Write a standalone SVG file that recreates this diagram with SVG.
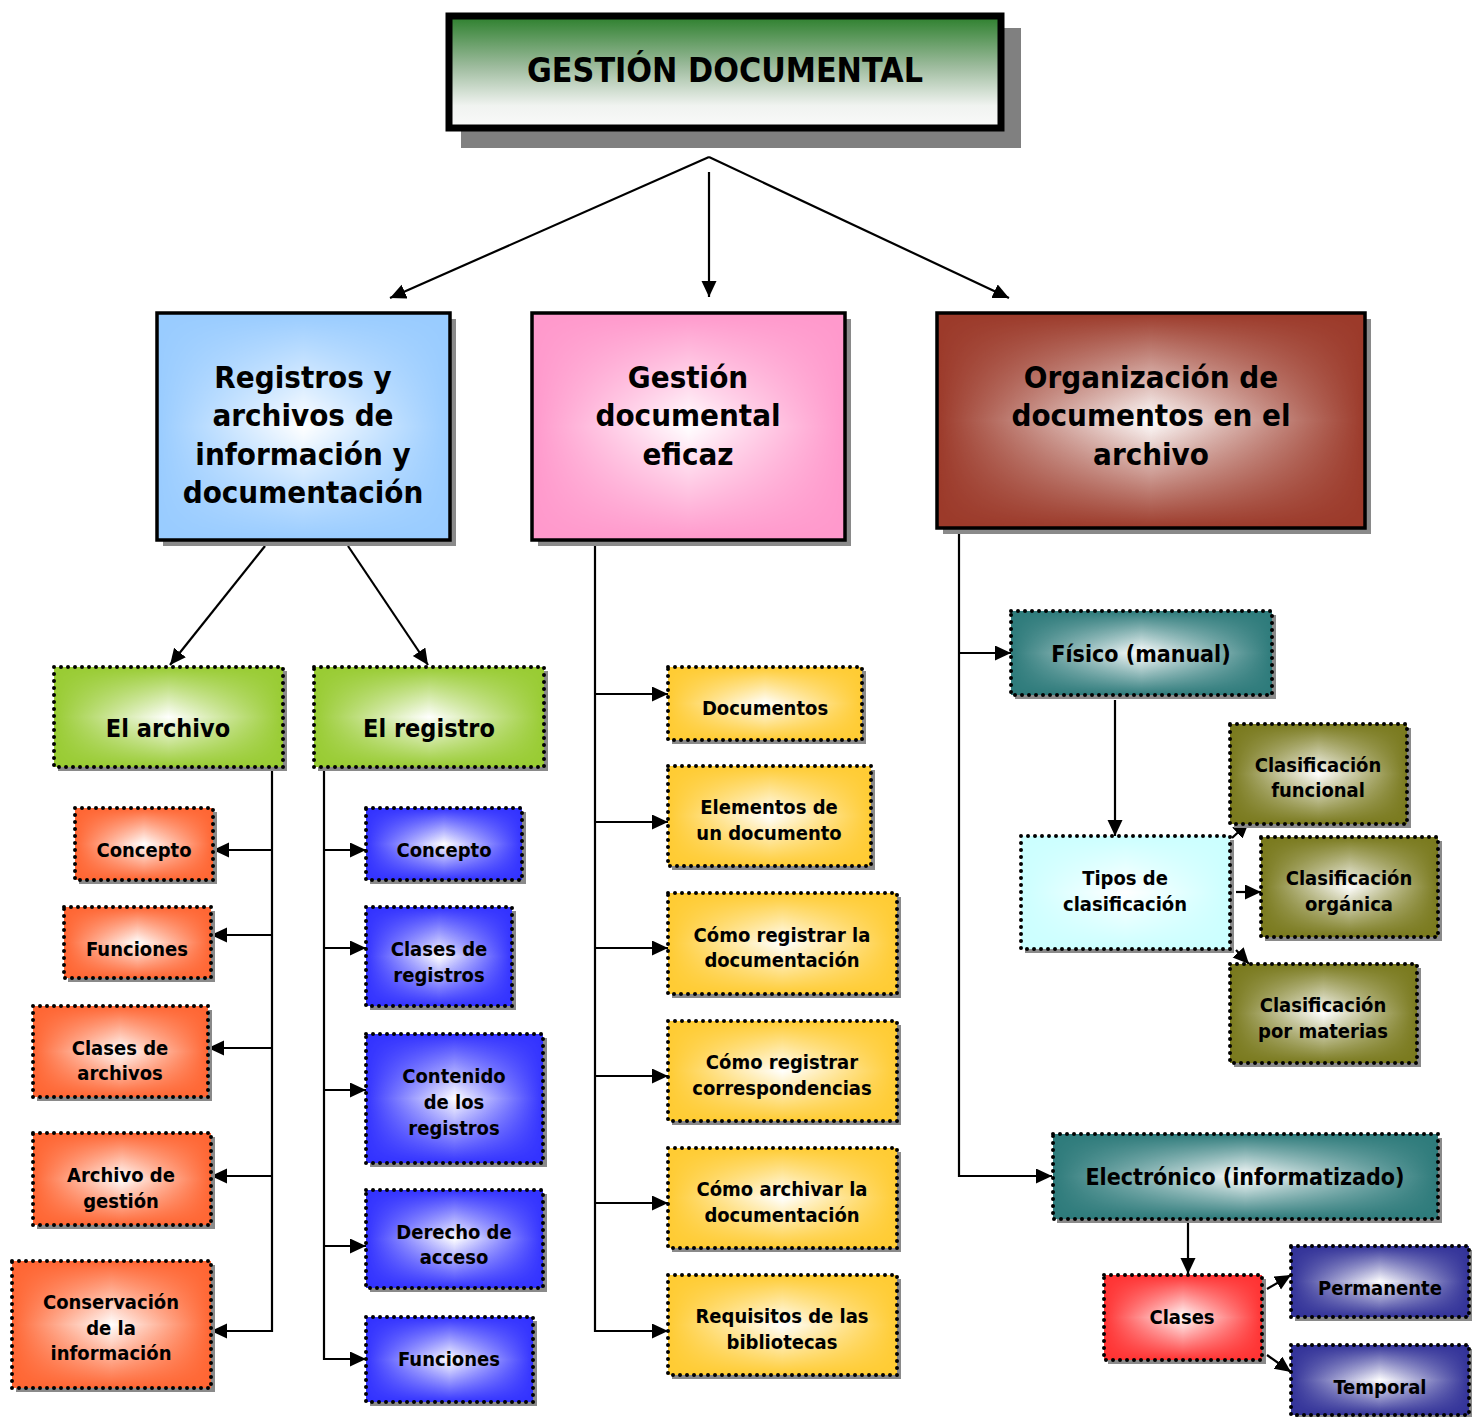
<svg xmlns="http://www.w3.org/2000/svg" width="1472" height="1417" viewBox="0 0 1472 1417">
<style>
.sh{fill:#8a8a8a}
.bd{fill:none;stroke:#000;stroke-width:4;stroke-dasharray:0 7;stroke-linecap:round}
.bs{fill:none;stroke:#000;stroke-width:3.5}
.w{fill:#fff}
.t{font-family:"DejaVu Sans","Liberation Sans",sans-serif;font-weight:bold;font-stretch:condensed;text-anchor:middle;fill:#000}
.t31{font-size:31px}
.t25{font-size:25px}
.t23{font-size:23px}
.t20{font-size:20px}
.c{fill:none;stroke:#000;stroke-width:2.2}
.a{marker-end:url(#arr)}
</style>
<defs>
<marker id="arr" markerUnits="userSpaceOnUse" markerWidth="18" markerHeight="16" refX="16" refY="7.5" orient="auto">
<path d="M0,0 L16,7.5 L0,15 z" fill="#000"/>
</marker>
<linearGradient id="gx" x1="0" y1="0" x2="1" y2="0">
<stop offset="0" stop-color="#000"/><stop offset="0.5" stop-color="#fff"/><stop offset="1" stop-color="#000"/>
</linearGradient>
<linearGradient id="gy" x1="0" y1="0" x2="0" y2="1">
<stop offset="0" stop-color="#000"/><stop offset="0.5" stop-color="#fff"/><stop offset="1" stop-color="#000"/>
</linearGradient>
<mask id="mx" maskUnits="objectBoundingBox" maskContentUnits="objectBoundingBox" x="0" y="0" width="1" height="1"><rect width="1" height="1" fill="url(#gx)"/></mask>
<mask id="my" maskUnits="objectBoundingBox" maskContentUnits="objectBoundingBox" x="0" y="0" width="1" height="1"><rect width="1" height="1" fill="url(#gy)"/></mask>
<linearGradient id="gt" x1="0" y1="0" x2="0" y2="1">
<stop offset="0" stop-color="#2c7f2c"/><stop offset="0.45" stop-color="#9dbb9d"/><stop offset="0.8" stop-color="#f0f3f0"/><stop offset="1" stop-color="#fafafa"/>
</linearGradient>
</defs>

<g id="connectors">
<path class="c a" d="M709,157 L390,298"/>
<path class="c a" d="M709,157 L1009,298"/>
<path class="c a" d="M709,172 L709,297"/>
<path class="c a" d="M265,546 L170,665"/>
<path class="c a" d="M348,546 L428,665"/>
<path class="c a" d="M272,767 V1331 H211"/>
<path class="c a" d="M272,850 H213"/>
<path class="c a" d="M272,935 H211"/>
<path class="c a" d="M272,1048 H208"/>
<path class="c a" d="M272,1176 H211"/>
<path class="c a" d="M324,767 V1359 H366"/>
<path class="c a" d="M324,850 H366"/>
<path class="c a" d="M324,948 H366"/>
<path class="c a" d="M324,1090 H366"/>
<path class="c a" d="M324,1246 H366"/>
<path class="c a" d="M595,540 V1331 H668"/>
<path class="c a" d="M595,694 H668"/>
<path class="c a" d="M595,822 H668"/>
<path class="c a" d="M595,948 H668"/>
<path class="c a" d="M595,1076 H668"/>
<path class="c a" d="M595,1203 H668"/>
<path class="c a" d="M959,528 V1176 H1052"/>
<path class="c a" d="M959,653 H1011"/>
<path class="c a" d="M1115,700 V836"/>
<path class="c a" d="M1232,838 L1249,822"/>
<path class="c a" d="M1236,892 H1261"/>
<path class="c a" d="M1236,950 L1249,964"/>
<path class="c a" d="M1188,1222 V1274"/>
<path class="c a" d="M1267,1289 L1291,1275"/>
<path class="c a" d="M1267,1355 L1291,1372"/>
</g>

<g id="n-titulo">
<rect x="461" y="28" width="560" height="120" fill="#808080"/>
<rect x="449" y="16" width="552" height="112" fill="url(#gt)" stroke="#000" stroke-width="7"/>
<text x="527" y="82" font-family="'Comic Sans MS','DejaVu Sans',sans-serif" font-weight="bold" font-size="34" textLength="396" lengthAdjust="spacingAndGlyphs" fill="#000">GESTIÓN DOCUMENTAL</text>
</g>

<g id="n-registros">
<rect class="sh" x="163" y="319" width="293" height="227"/>
<rect x="157" y="313" width="293" height="227" fill="#99ccff"/>
<g mask="url(#mx)"><rect class="w" x="157" y="313" width="293" height="227" mask="url(#my)"/></g>
<rect class="bs" x="157" y="313" width="293" height="227"/>
<text class="t t31"><tspan x="303" y="388">Registros y</tspan><tspan x="303" y="426">archivos de</tspan><tspan x="303" y="465">información y</tspan><tspan x="303" y="503">documentación</tspan></text>
</g>

<g id="n-gestion">
<rect class="sh" x="538" y="319" width="313" height="227"/>
<rect x="532" y="313" width="313" height="227" fill="#ff99cc"/>
<g mask="url(#mx)"><rect class="w" x="532" y="313" width="313" height="227" mask="url(#my)"/></g>
<rect class="bs" x="532" y="313" width="313" height="227"/>
<text class="t t31"><tspan x="688" y="388">Gestión</tspan><tspan x="688" y="426">documental</tspan><tspan x="688" y="465">eficaz</tspan></text>
</g>

<g id="n-organizacion">
<rect class="sh" x="943" y="319" width="428" height="215"/>
<rect x="937" y="313" width="428" height="215" fill="#9c3a2a"/>
<g mask="url(#mx)"><rect class="w" x="937" y="313" width="428" height="215" mask="url(#my)"/></g>
<rect class="bs" x="937" y="313" width="428" height="215"/>
<text class="t t31"><tspan x="1151" y="388">Organización de</tspan><tspan x="1151" y="426">documentos en el</tspan><tspan x="1151" y="465">archivo</tspan></text>
</g>

<g id="n-elarchivo">
<rect class="sh" x="58" y="671" width="229" height="100"/>
<rect x="54" y="667" width="229" height="100" fill="#99cc33"/>
<g mask="url(#mx)"><rect class="w" x="54" y="667" width="229" height="100" mask="url(#my)"/></g>
<rect class="bd" x="54" y="667" width="229" height="100"/>
<text class="t t25" x="168" y="737">El archivo</text>
</g>

<g id="n-elregistro">
<rect class="sh" x="318" y="671" width="230" height="100"/>
<rect x="314" y="667" width="230" height="100" fill="#99cc33"/>
<g mask="url(#mx)"><rect class="w" x="314" y="667" width="230" height="100" mask="url(#my)"/></g>
<rect class="bd" x="314" y="667" width="230" height="100"/>
<text class="t t25" x="429" y="737">El registro</text>
</g>

<g id="n-a-concepto">
<rect class="sh" x="79" y="812" width="138" height="72"/>
<rect x="75" y="808" width="138" height="72" fill="#ff6633"/>
<g mask="url(#mx)"><rect class="w" x="75" y="808" width="138" height="72" mask="url(#my)"/></g>
<rect class="bd" x="75" y="808" width="138" height="72"/>
<text class="t t20" x="144" y="857">Concepto</text>
</g>

<g id="n-a-funciones">
<rect class="sh" x="68" y="911" width="147" height="71"/>
<rect x="64" y="907" width="147" height="71" fill="#ff6633"/>
<g mask="url(#mx)"><rect class="w" x="64" y="907" width="147" height="71" mask="url(#my)"/></g>
<rect class="bd" x="64" y="907" width="147" height="71"/>
<text class="t t20" x="137" y="956">Funciones</text>
</g>

<g id="n-a-clases">
<rect class="sh" x="37" y="1010" width="175" height="91"/>
<rect x="33" y="1006" width="175" height="91" fill="#ff6633"/>
<g mask="url(#mx)"><rect class="w" x="33" y="1006" width="175" height="91" mask="url(#my)"/></g>
<rect class="bd" x="33" y="1006" width="175" height="91"/>
<text class="t t20"><tspan x="120" y="1055">Clases de</tspan><tspan x="120" y="1080">archivos</tspan></text>
</g>

<g id="n-a-gestion">
<rect class="sh" x="37" y="1137" width="178" height="92"/>
<rect x="33" y="1133" width="178" height="92" fill="#ff6633"/>
<g mask="url(#mx)"><rect class="w" x="33" y="1133" width="178" height="92" mask="url(#my)"/></g>
<rect class="bd" x="33" y="1133" width="178" height="92"/>
<text class="t t20"><tspan x="121" y="1182">Archivo de</tspan><tspan x="121" y="1208">gestión</tspan></text>
</g>

<g id="n-a-conservacion">
<rect class="sh" x="16" y="1265" width="199" height="127"/>
<rect x="12" y="1261" width="199" height="127" fill="#ff6633"/>
<g mask="url(#mx)"><rect class="w" x="12" y="1261" width="199" height="127" mask="url(#my)"/></g>
<rect class="bd" x="12" y="1261" width="199" height="127"/>
<text class="t t20"><tspan x="111" y="1309">Conservación</tspan><tspan x="111" y="1335">de la</tspan><tspan x="111" y="1360">información</tspan></text>
</g>

<g id="n-r-concepto">
<rect class="sh" x="370" y="812" width="156" height="72"/>
<rect x="366" y="808" width="156" height="72" fill="#3333ff"/>
<g mask="url(#mx)"><rect class="w" x="366" y="808" width="156" height="72" mask="url(#my)"/></g>
<rect class="bd" x="366" y="808" width="156" height="72"/>
<text class="t t20" x="444" y="857">Concepto</text>
</g>

<g id="n-r-clases">
<rect class="sh" x="370" y="911" width="146" height="99"/>
<rect x="366" y="907" width="146" height="99" fill="#3333ff"/>
<g mask="url(#mx)"><rect class="w" x="366" y="907" width="146" height="99" mask="url(#my)"/></g>
<rect class="bd" x="366" y="907" width="146" height="99"/>
<text class="t t20"><tspan x="439" y="956">Clases de</tspan><tspan x="439" y="982">registros</tspan></text>
</g>

<g id="n-r-contenido">
<rect class="sh" x="370" y="1038" width="177" height="129"/>
<rect x="366" y="1034" width="177" height="129" fill="#3333ff"/>
<g mask="url(#mx)"><rect class="w" x="366" y="1034" width="177" height="129" mask="url(#my)"/></g>
<rect class="bd" x="366" y="1034" width="177" height="129"/>
<text class="t t20"><tspan x="454" y="1083">Contenido</tspan><tspan x="454" y="1109">de los</tspan><tspan x="454" y="1135">registros</tspan></text>
</g>

<g id="n-r-derecho">
<rect class="sh" x="370" y="1194" width="177" height="98"/>
<rect x="366" y="1190" width="177" height="98" fill="#3333ff"/>
<g mask="url(#mx)"><rect class="w" x="366" y="1190" width="177" height="98" mask="url(#my)"/></g>
<rect class="bd" x="366" y="1190" width="177" height="98"/>
<text class="t t20"><tspan x="454" y="1239">Derecho de</tspan><tspan x="454" y="1264">acceso</tspan></text>
</g>

<g id="n-r-funciones">
<rect class="sh" x="370" y="1321" width="167" height="85"/>
<rect x="366" y="1317" width="167" height="85" fill="#3333ff"/>
<g mask="url(#mx)"><rect class="w" x="366" y="1317" width="167" height="85" mask="url(#my)"/></g>
<rect class="bd" x="366" y="1317" width="167" height="85"/>
<text class="t t20" x="449" y="1366">Funciones</text>
</g>

<g id="n-documentos">
<rect class="sh" x="672" y="671" width="194" height="73"/>
<rect x="668" y="667" width="194" height="73" fill="#ffcc33"/>
<g mask="url(#mx)"><rect class="w" x="668" y="667" width="194" height="73" mask="url(#my)"/></g>
<rect class="bd" x="668" y="667" width="194" height="73"/>
<text class="t t20" x="765" y="715">Documentos</text>
</g>

<g id="n-elementos">
<rect class="sh" x="672" y="770" width="203" height="100"/>
<rect x="668" y="766" width="203" height="100" fill="#ffcc33"/>
<g mask="url(#mx)"><rect class="w" x="668" y="766" width="203" height="100" mask="url(#my)"/></g>
<rect class="bd" x="668" y="766" width="203" height="100"/>
<text class="t t20"><tspan x="769" y="814">Elementos de</tspan><tspan x="769" y="840">un documento</tspan></text>
</g>

<g id="n-registrar-doc">
<rect class="sh" x="672" y="897" width="229" height="101"/>
<rect x="668" y="893" width="229" height="101" fill="#ffcc33"/>
<g mask="url(#mx)"><rect class="w" x="668" y="893" width="229" height="101" mask="url(#my)"/></g>
<rect class="bd" x="668" y="893" width="229" height="101"/>
<text class="t t20"><tspan x="782" y="942">Cómo registrar la</tspan><tspan x="782" y="967">documentación</tspan></text>
</g>

<g id="n-registrar-corr">
<rect class="sh" x="672" y="1025" width="229" height="100"/>
<rect x="668" y="1021" width="229" height="100" fill="#ffcc33"/>
<g mask="url(#mx)"><rect class="w" x="668" y="1021" width="229" height="100" mask="url(#my)"/></g>
<rect class="bd" x="668" y="1021" width="229" height="100"/>
<text class="t t20"><tspan x="782" y="1069">Cómo registrar</tspan><tspan x="782" y="1095">correspondencias</tspan></text>
</g>

<g id="n-archivar">
<rect class="sh" x="672" y="1152" width="229" height="100"/>
<rect x="668" y="1148" width="229" height="100" fill="#ffcc33"/>
<g mask="url(#mx)"><rect class="w" x="668" y="1148" width="229" height="100" mask="url(#my)"/></g>
<rect class="bd" x="668" y="1148" width="229" height="100"/>
<text class="t t20"><tspan x="782" y="1196">Cómo archivar la</tspan><tspan x="782" y="1222">documentación</tspan></text>
</g>

<g id="n-requisitos">
<rect class="sh" x="672" y="1279" width="229" height="100"/>
<rect x="668" y="1275" width="229" height="100" fill="#ffcc33"/>
<g mask="url(#mx)"><rect class="w" x="668" y="1275" width="229" height="100" mask="url(#my)"/></g>
<rect class="bd" x="668" y="1275" width="229" height="100"/>
<text class="t t20"><tspan x="782" y="1323">Requisitos de las</tspan><tspan x="782" y="1349">bibliotecas</tspan></text>
</g>

<g id="n-fisico">
<rect class="sh" x="1015" y="615" width="261" height="84"/>
<rect x="1011" y="611" width="261" height="84" fill="#2e7b7b"/>
<g mask="url(#mx)"><rect class="w" x="1011" y="611" width="261" height="84" mask="url(#my)"/></g>
<rect class="bd" x="1011" y="611" width="261" height="84"/>
<text class="t t23" x="1141" y="662">Físico (manual)</text>
</g>

<g id="n-tipos">
<rect class="sh" x="1025" y="840" width="209" height="113"/>
<rect x="1021" y="836" width="209" height="113" fill="#ccffff"/>
<g mask="url(#mx)"><rect class="w" x="1021" y="836" width="209" height="113" mask="url(#my)"/></g>
<rect class="bd" x="1021" y="836" width="209" height="113"/>
<text class="t t20"><tspan x="1125" y="885">Tipos de</tspan><tspan x="1125" y="911">clasificación</tspan></text>
</g>

<g id="n-funcional">
<rect class="sh" x="1234" y="728" width="177" height="100"/>
<rect x="1230" y="724" width="177" height="100" fill="#7a7a1e"/>
<g mask="url(#mx)"><rect class="w" x="1230" y="724" width="177" height="100" mask="url(#my)"/></g>
<rect class="bd" x="1230" y="724" width="177" height="100"/>
<text class="t t20"><tspan x="1318" y="772">Clasificación</tspan><tspan x="1318" y="797">funcional</tspan></text>
</g>

<g id="n-organica">
<rect class="sh" x="1265" y="841" width="177" height="100"/>
<rect x="1261" y="837" width="177" height="100" fill="#7a7a1e"/>
<g mask="url(#mx)"><rect class="w" x="1261" y="837" width="177" height="100" mask="url(#my)"/></g>
<rect class="bd" x="1261" y="837" width="177" height="100"/>
<text class="t t20"><tspan x="1349" y="885">Clasificación</tspan><tspan x="1349" y="911">orgánica</tspan></text>
</g>

<g id="n-materias">
<rect class="sh" x="1234" y="968" width="187" height="99"/>
<rect x="1230" y="964" width="187" height="99" fill="#7a7a1e"/>
<g mask="url(#mx)"><rect class="w" x="1230" y="964" width="187" height="99" mask="url(#my)"/></g>
<rect class="bd" x="1230" y="964" width="187" height="99"/>
<text class="t t20"><tspan x="1323" y="1012">Clasificación</tspan><tspan x="1323" y="1038">por materias</tspan></text>
</g>

<g id="n-electronico">
<rect class="sh" x="1057" y="1138" width="385" height="85"/>
<rect x="1053" y="1134" width="385" height="85" fill="#2e7b7b"/>
<g mask="url(#mx)"><rect class="w" x="1053" y="1134" width="385" height="85" mask="url(#my)"/></g>
<rect class="bd" x="1053" y="1134" width="385" height="85"/>
<text class="t t23" x="1245" y="1185">Electrónico (informatizado)</text>
</g>

<g id="n-clases">
<rect class="sh" x="1108" y="1279" width="158" height="85"/>
<rect x="1104" y="1275" width="158" height="85" fill="#ff3333"/>
<g mask="url(#mx)"><rect class="w" x="1104" y="1275" width="158" height="85" mask="url(#my)"/></g>
<rect class="bd" x="1104" y="1275" width="158" height="85"/>
<text class="t t20" x="1182" y="1324">Clases</text>
</g>

<g id="n-permanente">
<rect class="sh" x="1295" y="1250" width="178" height="71"/>
<rect x="1291" y="1246" width="178" height="71" fill="#333399"/>
<g mask="url(#mx)"><rect class="w" x="1291" y="1246" width="178" height="71" mask="url(#my)"/></g>
<rect class="bd" x="1291" y="1246" width="178" height="71"/>
<text class="t t20" x="1380" y="1295">Permanente</text>
</g>

<g id="n-temporal">
<rect class="sh" x="1295" y="1349" width="178" height="70"/>
<rect x="1291" y="1345" width="178" height="70" fill="#333399"/>
<g mask="url(#mx)"><rect class="w" x="1291" y="1345" width="178" height="70" mask="url(#my)"/></g>
<rect class="bd" x="1291" y="1345" width="178" height="70"/>
<text class="t t20" x="1380" y="1394">Temporal</text>
</g>
</svg>
